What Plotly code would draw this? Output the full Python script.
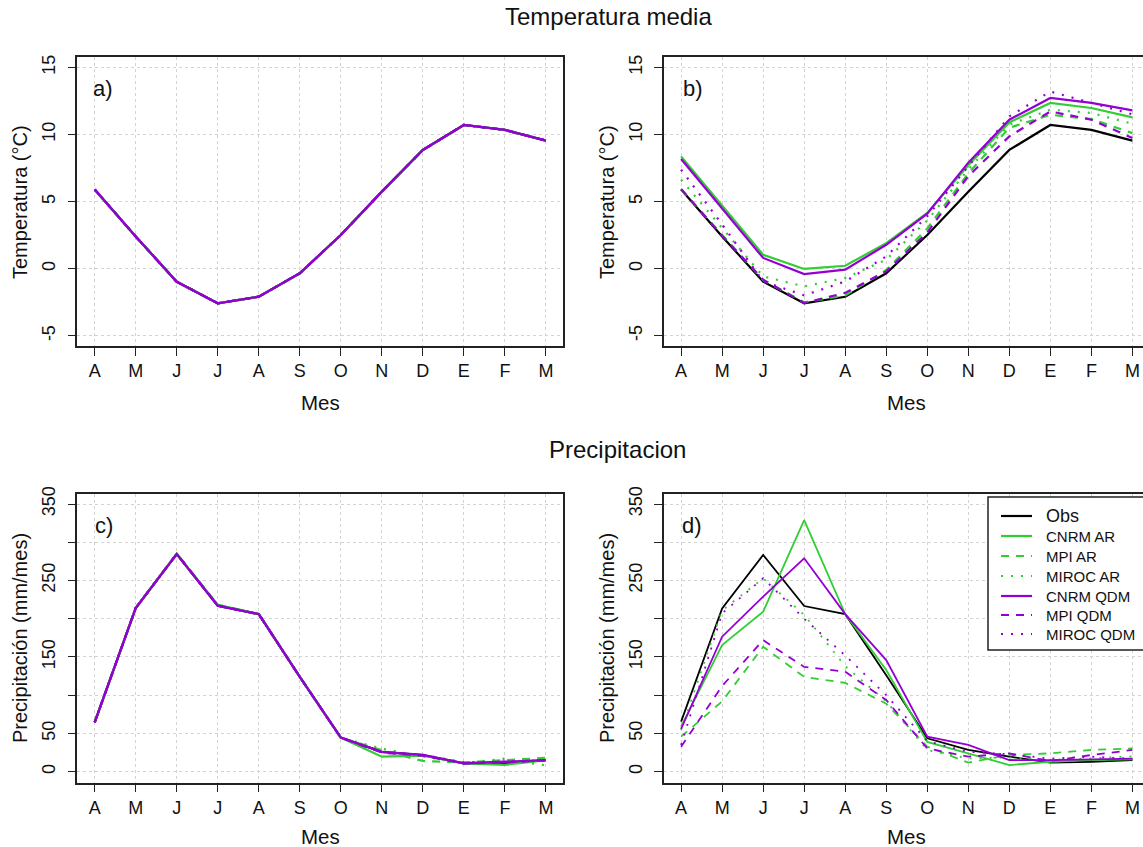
import plotly.graph_objects as go

W, H = 1143, 847

months = ["A", "M", "J", "J", "A", "S", "O", "N", "D", "E", "F", "M"]
x_pos = list(range(1, 13))

series_names = ["Obs", "CNRM AR", "MPI AR", "MIROC AR", "CNRM QDM", "MPI QDM", "MIROC QDM"]

# ---- Panel a: temperatura, periodo de calibracion (todas las series coinciden)
temp_a_obs = [5.9, 2.4, -0.97, -2.58, -2.09, -0.34, 2.51, 5.74, 8.85, 10.71, 10.34, 9.54]
temp_a_cnrm_ar = [5.9, 2.4, -0.97, -2.58, -2.09, -0.34, 2.51, 5.74, 8.85, 10.71, 10.34, 9.54]
temp_a_mpi_ar = [5.9, 2.4, -0.97, -2.58, -2.09, -0.34, 2.51, 5.74, 8.85, 10.71, 10.34, 9.54]
temp_a_miroc_ar = [5.9, 2.4, -0.97, -2.58, -2.09, -0.34, 2.51, 5.74, 8.85, 10.71, 10.34, 9.54]
temp_a_cnrm_qdm = [5.9, 2.4, -0.97, -2.58, -2.09, -0.34, 2.51, 5.74, 8.85, 10.71, 10.34, 9.54]
temp_a_mpi_qdm = [5.9, 2.4, -0.97, -2.58, -2.09, -0.34, 2.51, 5.74, 8.85, 10.71, 10.34, 9.54]
temp_a_miroc_qdm = [5.9, 2.4, -0.97, -2.58, -2.09, -0.34, 2.51, 5.74, 8.85, 10.71, 10.34, 9.54]

# ---- Panel b: temperatura, periodo de validacion
temp_b_obs = [5.9, 2.4, -0.97, -2.58, -2.09, -0.34, 2.51, 5.74, 8.85, 10.71, 10.34, 9.54]
temp_b_cnrm_ar = [8.37, 4.69, 1.04, -0.02, 0.22, 1.9, 4.15, 7.7, 10.9, 12.35, 11.97, 11.27]
temp_b_mpi_ar = [5.9, 2.5, -0.85, -2.5, -2.0, -0.1, 3.0, 7.1, 10.5, 11.47, 11.15, 10.1]
temp_b_miroc_ar = [6.63, 3.0, -0.57, -1.32, -0.69, 0.67, 3.6, 7.4, 10.73, 11.85, 11.6, 10.8]
temp_b_cnrm_qdm = [8.17, 4.5, 0.8, -0.4, -0.07, 1.78, 4.1, 7.9, 11.1, 12.72, 12.35, 11.8]
temp_b_mpi_qdm = [5.94, 2.45, -0.82, -2.56, -1.8, -0.2, 2.7, 6.9, 9.86, 11.72, 11.1, 9.74]
temp_b_miroc_qdm = [7.38, 3.3, -0.94, -1.99, -0.95, 0.92, 3.9, 7.6, 11.35, 13.2, 12.35, 11.5]

# ---- Panel c: precipitacion, calibracion
prec_c_obs = [64.6, 214, 284.6, 217, 206, 124, 44.5, 26, 21.8, 11, 11, 15]
prec_c_cnrm_ar = [64.6, 214, 285, 218, 206, 124, 44.5, 19.6, 21, 11, 9, 15]
prec_c_mpi_ar = [64.6, 214, 285, 218, 206, 124, 44.5, 28, 14, 12, 15, 18]
prec_c_miroc_ar = [64.6, 214, 285, 218, 206, 124, 44.5, 30, 20, 11, 17, 8]
prec_c_cnrm_qdm = [64.6, 214, 284.6, 217, 206, 124, 44.5, 26, 22, 11, 13, 15]
prec_c_mpi_qdm = [64.6, 214, 284.6, 217, 206, 124, 44.5, 25, 21, 11, 12, 15]
prec_c_miroc_qdm = [64.6, 214, 284.6, 217, 206, 124, 44.5, 26, 22, 12, 13, 15]

# ---- Panel d: precipitacion, validacion
prec_d_obs = [65.4, 213.6, 283.3, 216.6, 206, 126, 43.6, 28.4, 19.6, 11.8, 13, 15.3]
prec_d_cnrm_ar = [58.8, 165.6, 209.2, 329, 206, 133, 39, 24, 8.7, 13, 15.3, 16]
prec_d_mpi_ar = [45.8, 92, 163.4, 124, 116, 89, 32.7, 11.8, 21.8, 24, 28.4, 30.5]
prec_d_miroc_ar = [54.5, 211, 252.8, 205, 138, 92, 28.4, 17.4, 18.7, 15.3, 17.4, 20]
prec_d_cnrm_qdm = [56, 176.5, 228.8, 279, 206, 146, 45.8, 35, 15.3, 15, 16, 17]
prec_d_mpi_qdm = [32.7, 112, 172, 137, 130.7, 93.7, 30.5, 19.6, 24, 14, 21.8, 28.4]
prec_d_miroc_qdm = [35, 207, 253, 200, 152, 100, 40, 26, 22.9, 17, 19.6, 17]

temp_ticks = [-5, 0, 5, 10, 15]
prec_ticks = [0, 50, 100, 150, 200, 250, 300, 350]
prec_ticktext = ["0", "50", "", "150", "", "250", "", "350"]

GREEN = "#32CD32"
PURPLE = "#9400D3"
styles = [
    ("black", "solid"),
    (GREEN, "solid"),
    (GREEN, "8px,7px"),
    (GREEN, "2px,8px"),
    (PURPLE, "solid"),
    (PURPLE, "8px,7px"),
    (PURPLE, "2px,8px"),
]

FONT = "Liberation Sans, Arial, Helvetica, sans-serif"

panels = [
    ("x", "y", [temp_a_obs, temp_a_cnrm_ar, temp_a_mpi_ar, temp_a_miroc_ar,
                temp_a_cnrm_qdm, temp_a_mpi_qdm, temp_a_miroc_qdm], 2.3),
    ("x2", "y2", [temp_b_obs, temp_b_cnrm_ar, temp_b_mpi_ar, temp_b_miroc_ar,
                  temp_b_cnrm_qdm, temp_b_mpi_qdm, temp_b_miroc_qdm], 2.2),
    ("x3", "y3", [prec_c_obs, prec_c_cnrm_ar, prec_c_mpi_ar, prec_c_miroc_ar,
                  prec_c_cnrm_qdm, prec_c_mpi_qdm, prec_c_miroc_qdm], 2.3),
    ("x4", "y4", [prec_d_obs, prec_d_cnrm_ar, prec_d_mpi_ar, prec_d_miroc_ar,
                  prec_d_cnrm_qdm, prec_d_mpi_qdm, prec_d_miroc_qdm], 1.8),
]

fig = go.Figure()
for xa, ya, data, lw in panels:
    for name, vals, (col, dash) in zip(series_names, data, styles):
        fig.add_trace(go.Scatter(
            x=x_pos, y=vals, xaxis=xa, yaxis=ya, mode="lines",
            line=dict(color=col, width=lw, dash=dash),
            name=name, showlegend=False, hoverinfo="skip",
        ))

# pixel geometry -> paper fractions
def px(v):
    return v / W

def py(v):
    return 1 - v / H

xa_dom = [px(77.3), px(563.3)]
xb_dom = [px(663.7), 1.0]
yt_dom = [py(346), py(57.3)]
yb_dom = [py(782.7), py(494)]

x_range_full = [0.576, 12.424]
x_range_clip = [0.576, 12.258]
t_range = [-5.76, 15.75]
p_range = [-14.4, 363.1]

common_x = dict(
    tickmode="array", tickvals=x_pos, ticktext=months,
    showgrid=True, gridcolor="#d3d3d3", griddash="dot", gridwidth=1,
    zeroline=False, showline=True, linecolor="#222", linewidth=1.5,
    mirror=True, ticks="outside", ticklen=8, tickcolor="#222", tickwidth=1.2,
    tickfont=dict(family=FONT, size=18, color="#111"), fixedrange=True,
)
common_y = dict(
    tickmode="array", showgrid=True, gridcolor="#d3d3d3", griddash="dot",
    gridwidth=1, zeroline=False, showline=True, linecolor="#222", linewidth=1.5,
    ticks="outside", ticklen=8, tickcolor="#222", tickwidth=1.2, tickangle=-90,
    tickfont=dict(family=FONT, size=18, color="#111"), ticklabelstandoff=5,
    fixedrange=True,
)

fig.update_layout(
    width=W, height=H,
    margin=dict(l=0, r=0, t=0, b=0, autoexpand=False),
    paper_bgcolor="white", plot_bgcolor="white",
    font=dict(family=FONT, color="#111"),
    xaxis=dict(common_x, domain=xa_dom, range=x_range_full, anchor="y"),
    yaxis=dict(common_y, domain=yt_dom, range=t_range, anchor="x",
               tickvals=temp_ticks, ticktext=[str(v) for v in temp_ticks], mirror=True),
    xaxis2=dict(common_x, domain=xb_dom, range=x_range_clip, anchor="y2"),
    yaxis2=dict(common_y, domain=yt_dom, range=t_range, anchor="x2",
                tickvals=temp_ticks, ticktext=[str(v) for v in temp_ticks], mirror=False),
    xaxis3=dict(common_x, domain=xa_dom, range=x_range_full, anchor="y3"),
    yaxis3=dict(common_y, domain=yb_dom, range=p_range, anchor="x3",
                tickvals=prec_ticks, ticktext=prec_ticktext, mirror=True),
    xaxis4=dict(common_x, domain=xb_dom, range=x_range_clip, anchor="y4"),
    yaxis4=dict(common_y, domain=yb_dom, range=p_range, anchor="x4",
                tickvals=prec_ticks, ticktext=prec_ticktext, mirror=False),
    showlegend=False,
)

ann = []
def text(x, y, s, size, angle=0, xanchor="center"):
    ann.append(dict(x=px(x), y=py(y), xref="paper", yref="paper", text=s,
                    showarrow=False, textangle=angle, xanchor=xanchor, yanchor="middle",
                    font=dict(family=FONT, size=size, color="#111")))

text(608, 17, "Temperatura media", 24)
text(617, 449, "Precipitacion", 24)
text(320, 402, "Mes", 20.5)
text(906, 402, "Mes", 20.5)
text(320, 836, "Mes", 20.5)
text(906, 836, "Mes", 20.5)
text(20, 202, "Temperatura (°C)", 20, -90)
text(607, 202, "Temperatura (°C)", 20, -90)
text(20, 638, "Precipitación (mm/mes)", 20, -90)
text(607, 638, "Precipitación (mm/mes)", 20, -90)
text(103, 88, "a)", 22)
text(693, 88, "b)", 22)
text(104, 525, "c)", 22)
text(692, 525, "d)", 22)

# ---- legend (drawn as a box in panel d, clipped at the right edge like the original)
shapes = [dict(type="rect", xref="paper", yref="paper",
               x0=px(988), x1=px(1160), y0=py(650), y1=py(497),
               fillcolor="white", line=dict(color="#222", width=1.5), layer="above")]
leg_y = [516, 536, 556, 576, 596, 615, 634]
for name, (col, dash), yy in zip(series_names, styles, leg_y):
    shapes.append(dict(type="line", xref="paper", yref="paper",
                       x0=px(1001), x1=px(1032), y0=py(yy), y1=py(yy),
                       line=dict(color=col, width=2.2, dash=dash), layer="above"))
    text(1044, yy, name, 18 if name == "Obs" else 15, xanchor="left")

fig.update_layout(annotations=ann, shapes=shapes)

fig.write_html("out.html")
